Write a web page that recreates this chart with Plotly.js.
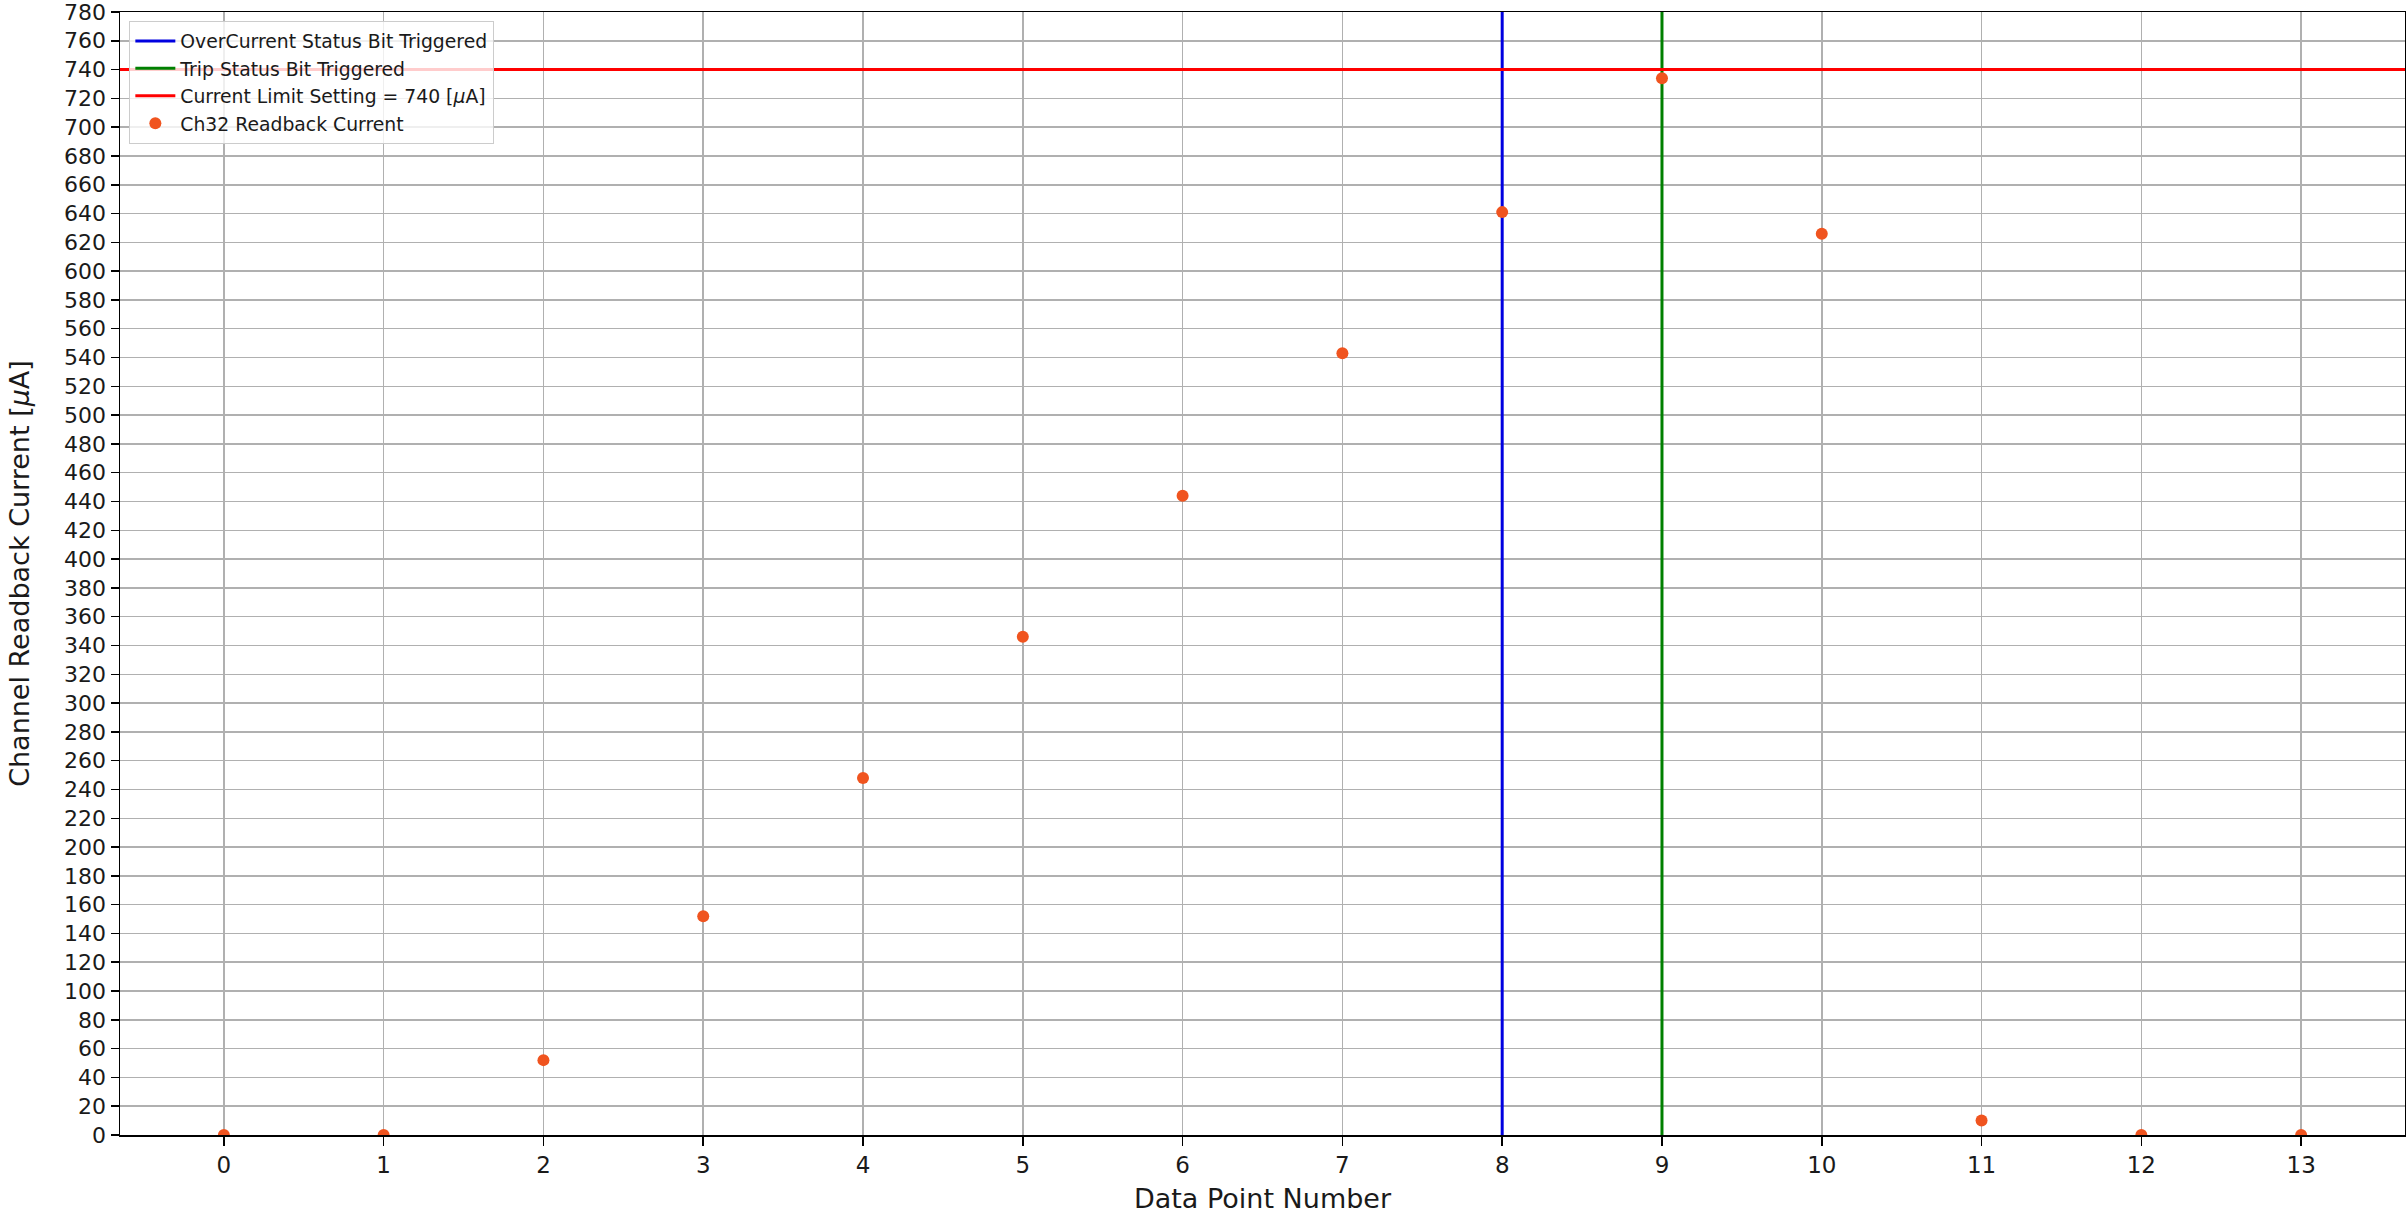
<!DOCTYPE html>
<html>
<head>
<meta charset="utf-8">
<script src="https://cdn.plot.ly/plotly-3.0.1.min.js"></script>
<style>html,body{margin:0;padding:0;background:#fff;}#chart{width:2406px;height:1214px;}</style>
</head>
<body>
<div id="chart"></div>
<script>
// ---- data ----
const dataPointNumbers = [0, 1, 2, 3, 4, 5, 6, 7, 8, 9, 10, 11, 12, 13];
const readbackCurrent = [0, 0, 52, 152, 248, 346, 444, 543, 641, 734, 626, 10, 0, 0];
const overCurrentPoint = 8;
const tripPoint = 9;
const currentLimit = 740;
const xRange = [-0.65, 13.65];
const yRange = [0, 780];
const xTickVals = [0, 1, 2, 3, 4, 5, 6, 7, 8, 9, 10, 11, 12, 13];
const yTickVals = [];
for (let v = 0; v <= 780; v += 20) yTickVals.push(v);

const FONT = "DejaVu Sans, Liberation Sans, sans-serif";

const traces = [
  {
    x: [overCurrentPoint, overCurrentPoint], y: [yRange[0] - 50, yRange[1] + 50],
    mode: 'lines', name: 'OverCurrent Status Bit Triggered',
    line: {color: '#0000e0', width: 3}, hoverinfo: 'skip'
  },
  {
    x: [tripPoint, tripPoint], y: [yRange[0] - 50, yRange[1] + 50],
    mode: 'lines', name: 'Trip Status Bit Triggered',
    line: {color: '#008000', width: 3}, hoverinfo: 'skip'
  },
  {
    x: [xRange[0] - 1, xRange[1] + 1], y: [currentLimit, currentLimit],
    mode: 'lines', name: 'Current Limit Setting = ' + currentLimit + ' [<i>μ</i>A]',
    line: {color: '#ff0000', width: 3}, hoverinfo: 'skip'
  },
  {
    x: dataPointNumbers, y: readbackCurrent,
    mode: 'markers', name: 'Ch32 Readback Current',
    marker: {color: '#f0541f', size: 12},
    cliponaxis: true
  }
];

const layout = {
  width: 2406, height: 1214,
  margin: {l: 120, r: 1, t: 12, b: 79, pad: 0},
  paper_bgcolor: '#ffffff', plot_bgcolor: '#ffffff',
  font: {family: FONT, color: '#1a1a1a', size: 22},
  showlegend: true,
  legend: {
    x: 0.004, y: 0.992, xanchor: 'left', yanchor: 'top',
    bgcolor: 'rgba(255,255,255,0.8)', bordercolor: '#cccccc', borderwidth: 1.2,
    font: {family: FONT, size: 18.8, color: '#1a1a1a'},
    itemwidth: 40, tracegroupgap: 0
  },
  xaxis: {
    range: xRange, tickmode: 'array', tickvals: xTickVals,
    ticks: 'outside', ticklen: 9, tickwidth: 1.5, tickcolor: '#000',
    showgrid: true, gridcolor: '#b0b0b0', gridwidth: 1.5,
    showline: true, linecolor: '#000', linewidth: 1.5, mirror: true,
    zeroline: false, tickfont: {size: 23, family: FONT},
    title: {text: 'Data Point Number', font: {size: 27, family: FONT}, standoff: 14}
  },
  yaxis: {
    range: yRange, tickmode: 'array', tickvals: yTickVals,
    ticks: 'outside', ticklen: 8, tickwidth: 1.5, tickcolor: '#000',
    ticklabeloverflow: 'allow',
    showgrid: true, gridcolor: '#b0b0b0', gridwidth: 1.5,
    showline: true, linecolor: '#000', linewidth: 1.5, mirror: true,
    zeroline: false, tickfont: {size: 22, family: FONT},
    title: {text: 'Channel Readback Current [<i>μ</i>A]', font: {size: 27, family: FONT}, standoff: 26}
  }
};

Plotly.newPlot('chart', traces, layout, {displayModeBar: false, staticPlot: true});
</script>
</body>
</html>
